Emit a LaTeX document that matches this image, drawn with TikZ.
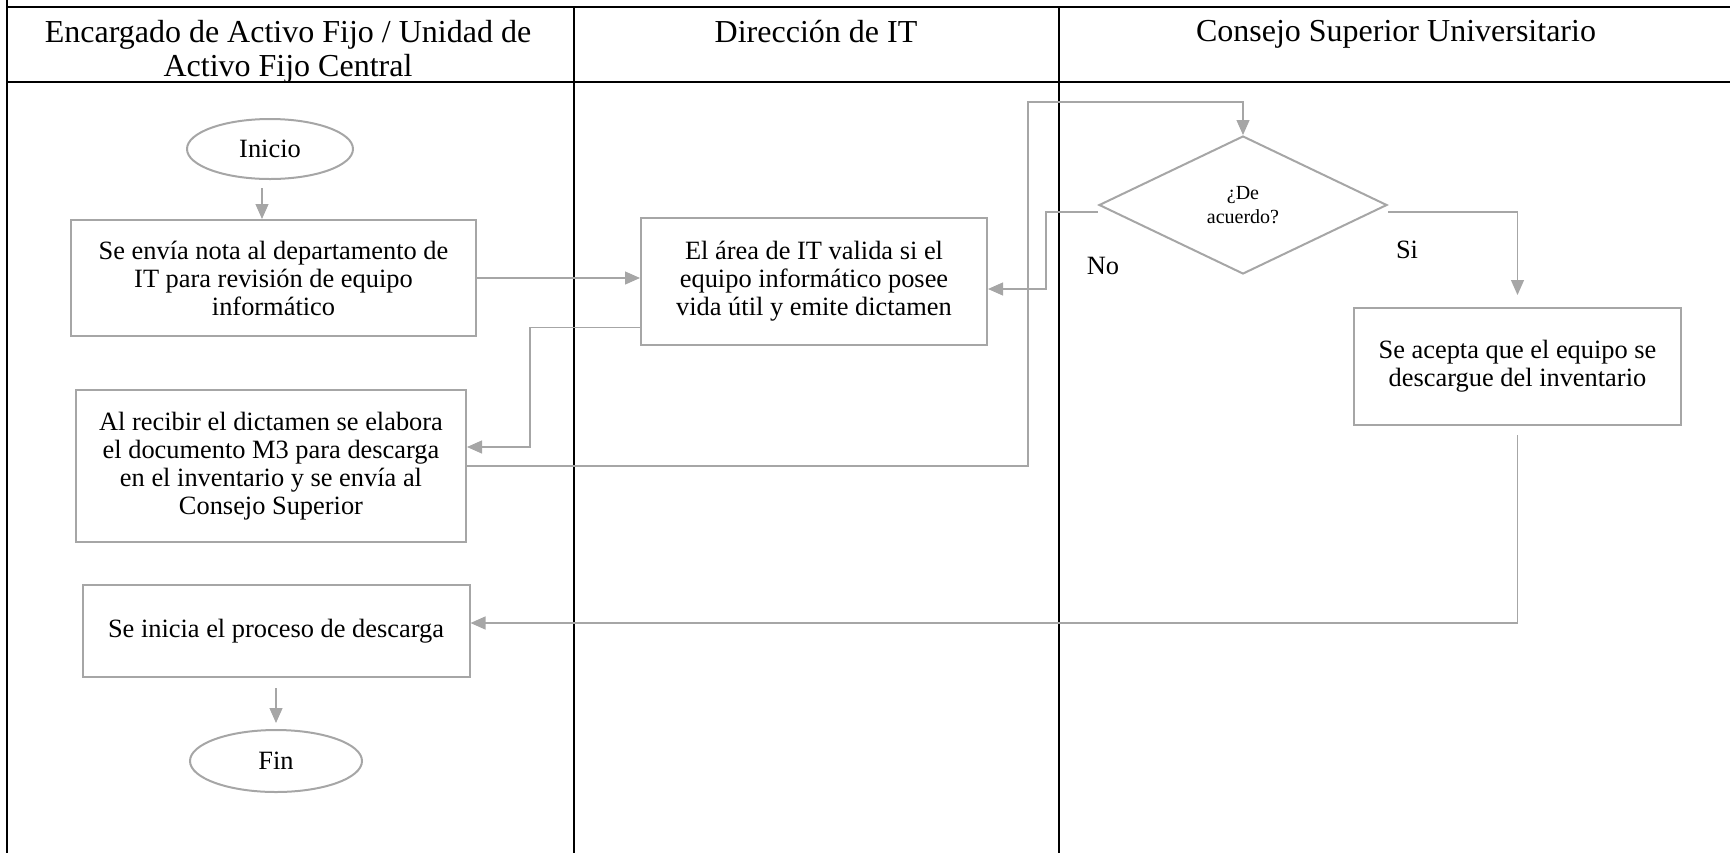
\documentclass[tikz,border=0pt]{standalone}
\usepackage{fontspec}
\setmainfont{Liberation Serif}
\usetikzlibrary{arrows.meta,positioning,shapes.geometric}
\definecolor{lanegray}{RGB}{166,166,166}

\begin{document}
\begin{tikzpicture}[x=.5pt,y=-.5pt,
  lane/.style={line width=1.1pt,black},
  head/.style={font=\fontsize{16}{17}\selectfont,align=center,anchor=north,inner sep=0pt},
  task/.style={draw=lanegray,line width=1pt,align=center,font=\fontsize{13.2}{14}\selectfont,inner sep=0pt},
  term/.style={task,ellipse},
  flow/.style={lanegray,line width=.6pt,-{Triangle[length=7.5pt,width=6.5pt]}}]
\useasboundingbox (0,0) rectangle (1730,853);
\draw[lane] (7,0)--(7,853);\draw[lane] (7,7)--(1730,7);\draw[lane] (7,82)--(1730,82);
\foreach \x in {574,1059}{\draw[lane] (\x,7)--(\x,853);}
\node[head] (hactivo) at (288,20) {Encargado de Activo Fijo / Unidad de\\Activo Fijo Central};
\node[head] (hit) at (816,20) {Dirección de IT};
\node[head] (hconsejo) at (1396,20) {Consejo Superior Universitario};
\node[term,minimum width=83pt,minimum height=30pt] (inicio) at (270,149) {Inicio};
\node[task,minimum width=202.5pt,minimum height=58pt] (nota) at (273.5,278) {Se envía nota al departamento de\\IT para revisión de equipo\\informático};
\node[task,minimum width=195pt,minimum height=76pt] (mtres) at (271,466) {Al recibir el dictamen se elabora\\el documento M3 para descarga\\en el inventario y se envía al\\Consejo Superior};
\node[task,minimum width=193.5pt,minimum height=46pt] (proceso) at (276,631) {Se inicia el proceso de descarga};
\node[term,minimum width=86pt,minimum height=31pt] (fin) at (276,761) {Fin};
\node[task,minimum width=173pt,minimum height=63.5pt] (valida) at (814,281.5) {El área de IT valida si el\\equipo informático posee\\vida útil y emite dictamen};
\node[task,diamond,minimum width=144pt,minimum height=69pt,font=\fontsize{10}{12}\selectfont] (acuerdo) at (1243,205) {¿De\\acuerdo?};
\node[task,minimum width=163.5pt,minimum height=58.5pt] (acepta) at (1517.5,366.5) {Se acepta que el equipo se\\descargue del inventario};
\node[font=\fontsize{13.2}{14}\selectfont] (no) at (1103,266) {No};\node[font=\fontsize{13.2}{14}\selectfont] (si) at (1407,250) {Si};
\coordinate (r1) at (530,447);\coordinate (m1) at (1028,102);\coordinate (n1) at (1046,289);
\draw[flow,shorten <=4pt] ([xshift=-4pt]inicio.south) -- ([xshift=-4pt]inicio.south |- nota.north);
\draw[flow] (nota.east) -- (nota.east -| valida.west);
\draw[flow] ([yshift=-23pt]valida.west) -| (r1) -- (r1 -| mtres.east);
\draw[flow] (mtres.east) -| (m1) -| (acuerdo.north);
\draw[flow] ([yshift=-3.5pt]acuerdo.west) -| (n1) -- (n1 -| valida.east);
\draw[flow,shorten >=6pt] ([yshift=-3.5pt]acuerdo.east) -| (acepta.north);
\draw[flow] ([yshift=-4.5pt]acepta.south) |- ([yshift=4pt]proceso.east);
\draw[flow,shorten <=5pt,shorten >=3pt] (proceso.south) -- (fin.north);
\end{tikzpicture}
\end{document}
